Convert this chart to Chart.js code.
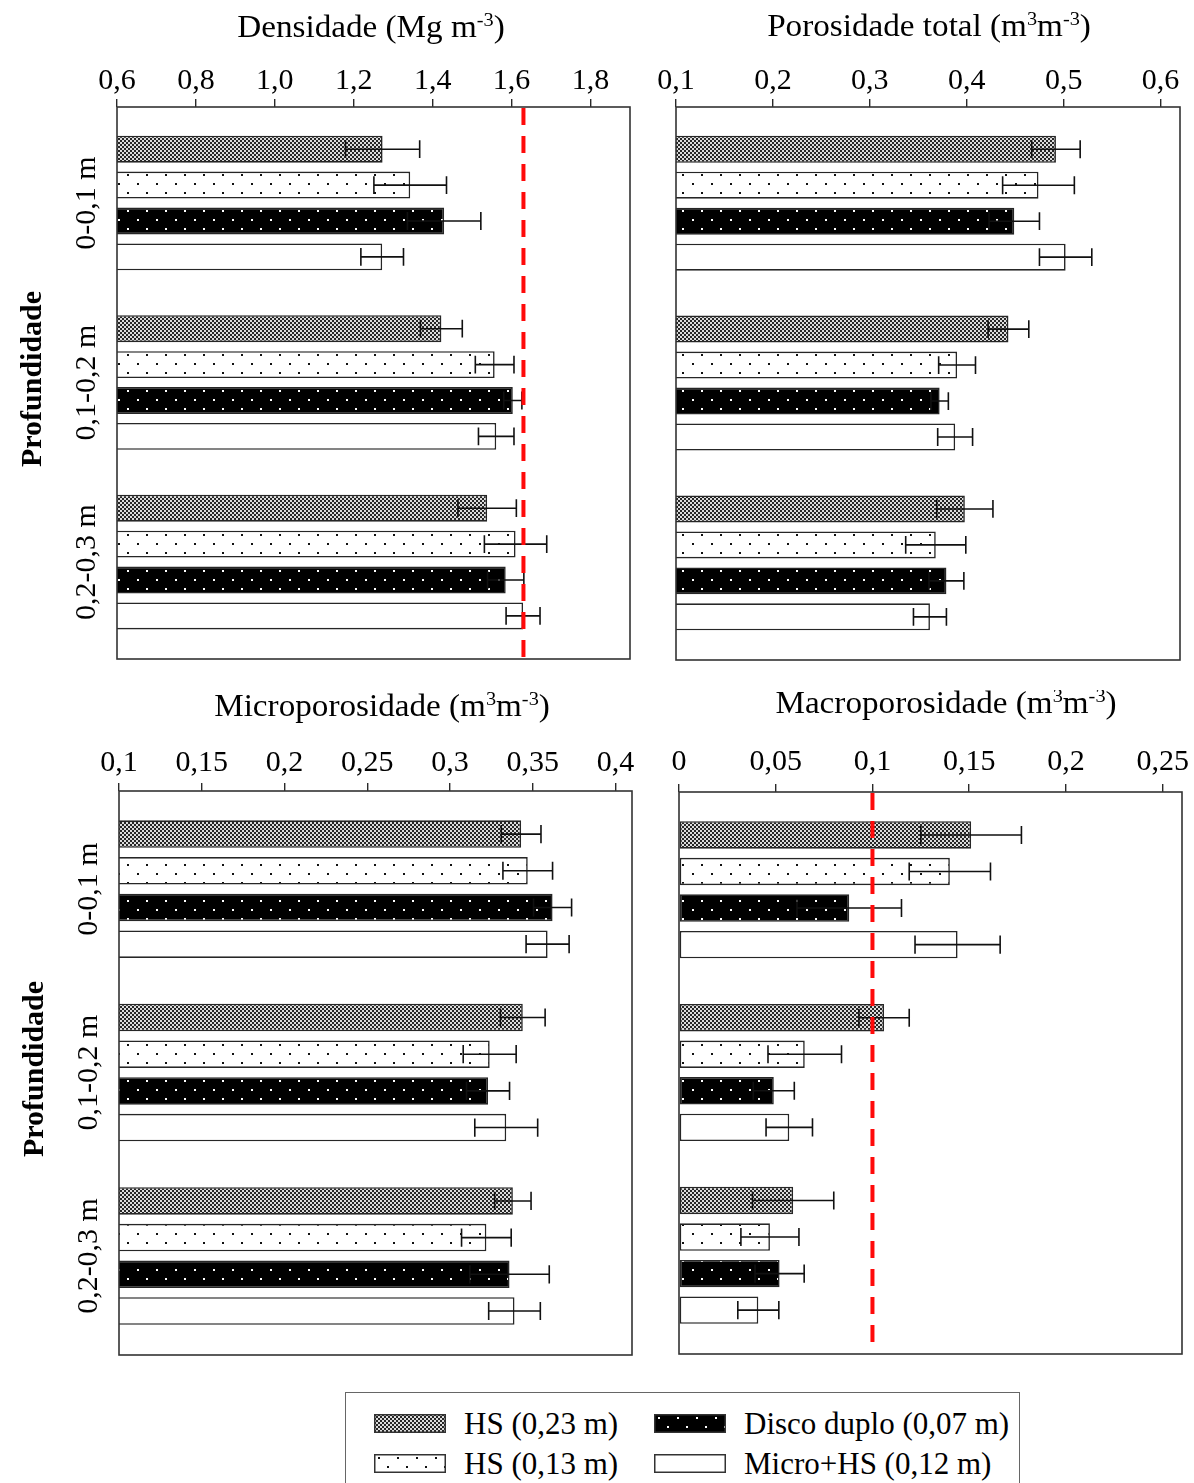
<!DOCTYPE html>
<html>
<head>
<meta charset="utf-8">
<script src="https://cdn.jsdelivr.net/npm/chart.js@4.4.1/dist/chart.umd.min.js"></script>
<style>
  html, body { margin: 0; padding: 0; background: #fff; }
  body { width: 1194px; height: 1483px; position: relative; overflow: hidden;
         font-family: "Liberation Serif", "Times New Roman", serif; color: #000; }
  canvas.panel { position: absolute; }
  #legend { position: absolute; left: 345px; top: 1392px; width: 675px; height: 120px;
            border: 1.5px solid #666; box-sizing: border-box; }
  #legend .sw { position: absolute; }
  #legend .txt { position: absolute; font-size: 31px; line-height: 31px; white-space: nowrap; color: #000; }
</style>
</head>
<body>
<canvas id="c1" class="panel" width="650" height="690" style="left:0;top:0"></canvas>
<canvas id="c2" class="panel" width="544" height="690" style="left:650px;top:0"></canvas>
<canvas id="c3" class="panel" width="650" height="690" style="left:0;top:690px"></canvas>
<canvas id="c4" class="panel" width="544" height="690" style="left:650px;top:690px"></canvas>
<div id="legend"></div>

<script>
// ---- categories and series ----
const depthLabels = ['0-0,1 m', '0,1-0,2 m', '0,2-0,3 m'];
const seriesNames = ['HS (0,23 m)', 'HS (0,13 m)', 'Disco duplo (0,07 m)', 'Micro+HS (0,12 m)'];
const depthAxisTitle = 'Profundidade';

// ---- Densidade (Mg m-3): rows = series, columns = depth ----
const densidadeMedia = [
  [1.273, 1.422, 1.538],
  [1.343, 1.557, 1.610],
  [1.429, 1.603, 1.585],
  [1.272, 1.561, 1.629]
];
const densidadeErro = [
  [0.094, 0.053, 0.074],
  [0.092, 0.049, 0.079],
  [0.093, 0.023, 0.046],
  [0.054, 0.045, 0.043]
];
const densidadeCritica = 1.63;
const densidadeTicks = [0.6, 0.8, 1.0, 1.2, 1.4, 1.6, 1.8];
const densidadeTickLabels = ['0,6', '0,8', '1,0', '1,2', '1,4', '1,6', '1,8'];
const densidadeTitulo = [['Densidade (Mg m'], ['-3', true], [')']];

// ---- Porosidade total (m3 m-3) ----
const porosidadeMedia = [
  [0.492, 0.443, 0.398],
  [0.474, 0.390, 0.368],
  [0.449, 0.372, 0.379],
  [0.502, 0.388, 0.362]
];
const porosidadeErro = [
  [0.025, 0.021, 0.029],
  [0.037, 0.019, 0.031],
  [0.026, 0.009, 0.018],
  [0.027, 0.018, 0.017]
];
const porosidadeTicks = [0.1, 0.2, 0.3, 0.4, 0.5, 0.6];
const porosidadeTickLabels = ['0,1', '0,2', '0,3', '0,4', '0,5', '0,6'];
const porosidadeTitulo = [['Porosidade total (m'], ['3', true], ['m'], ['-3', true], [')']];

// ---- Microporosidade (m3 m-3) ----
const microMedia = [
  [0.343, 0.344, 0.338],
  [0.347, 0.324, 0.322],
  [0.362, 0.323, 0.336],
  [0.359, 0.334, 0.339]
];
const microErro = [
  [0.012, 0.0135, 0.011],
  [0.015, 0.016, 0.015],
  [0.0115, 0.013, 0.024],
  [0.013, 0.019, 0.0156]
];
const microTicks = [0.1, 0.15, 0.2, 0.25, 0.3, 0.35, 0.4];
const microTickLabels = ['0,1', '0,15', '0,2', '0,25', '0,3', '0,35', '0,4'];
const microTitulo = [['Microporosidade (m'], ['3', true], ['m'], ['-3', true], [')']];

// ---- Macroporosidade (m3 m-3) ----
const macroMedia = [
  [0.151, 0.106, 0.059],
  [0.140, 0.065, 0.047],
  [0.088, 0.049, 0.052],
  [0.144, 0.057, 0.041]
];
const macroErro = [
  [0.026, 0.013, 0.021],
  [0.021, 0.019, 0.015],
  [0.027, 0.0106, 0.0127],
  [0.022, 0.012, 0.0106]
];
const macroCritica = 0.10;
const macroTicks = [0, 0.05, 0.1, 0.15, 0.2, 0.25];
const macroTickLabels = ['0', '0,05', '0,1', '0,15', '0,2', '0,25'];
const macroTitulo = [['Macroporosidade (m'], ['3', true], ['m'], ['-3', true], [')']];

// ---- fills ----
const SERIF = '"Liberation Serif", "Times New Roman", serif';
Chart.defaults.font.family = SERIF;
Chart.defaults.color = '#000';

function checkerFill(ctx) {
  const c = document.createElement('canvas');
  c.width = 4; c.height = 4;
  const g = c.getContext('2d');
  g.fillStyle = '#dcdcdc'; g.fillRect(0, 0, 4, 4);
  g.fillStyle = '#262626'; g.fillRect(0, 0, 2, 2); g.fillRect(2, 2, 2, 2);
  return ctx.createPattern(c, 'repeat');
}
function dotFill(ctx, bg, dot) {
  const c = document.createElement('canvas');
  c.width = 19; c.height = 18;
  const g = c.getContext('2d');
  g.fillStyle = bg; g.fillRect(0, 0, 19, 18);
  g.fillStyle = dot; g.fillRect(4, 3, 2, 2); g.fillRect(13, 12, 2, 2);
  return ctx.createPattern(c, 'repeat');
}
function seriesFills(ctx) {
  return [checkerFill(ctx), dotFill(ctx, '#ffffff', '#111111'), dotFill(ctx, '#000000', '#ffffff'), '#ffffff'];
}

// superscript-aware text, slightly widened like the serif titles of the figure
function drawRich(ctx, segs, cx, baseline, size, stretch) {
  const supSize = Math.round(size * 0.62);
  const fMain = size + 'px ' + SERIF, fSup = supSize + 'px ' + SERIF;
  let total = 0;
  const w = segs.map(sg => { ctx.font = sg[1] ? fSup : fMain; const m = ctx.measureText(sg[0]).width; total += m; return m; });
  ctx.save();
  ctx.translate(cx, baseline);
  ctx.scale(stretch, 1);
  let x = -total / 2;
  ctx.textAlign = 'left'; ctx.textBaseline = 'alphabetic'; ctx.fillStyle = '#000';
  segs.forEach((sg, k) => {
    ctx.font = sg[1] ? fSup : fMain;
    ctx.fillText(sg[0], x, sg[1] ? -size * 0.36 : 0);
    x += w[k];
  });
  ctx.restore();
}

// frame, error bars, reference line, titles and depth labels
const panelPlugin = {
  id: 'panelDecor',
  afterDatasetsDraw(chart) {
    const o = chart.options.plugins.panelDecor;
    const ctx = chart.ctx, xs = chart.scales.x, a = chart.chartArea;
    ctx.save();
    // error bars
    ctx.strokeStyle = '#111'; ctx.lineWidth = 1.6; ctx.setLineDash([]);
    chart.data.datasets.forEach((ds, s) => {
      const meta = chart.getDatasetMeta(s);
      meta.data.forEach((bar, i) => {
        const v = meta.controller.getParsed(i).x;
        const e = o.errors[s][i];
        const x1 = xs.getPixelForValue(v - e), x2 = xs.getPixelForValue(v + e);
        const cap = bar.height * 0.33;
        ctx.beginPath();
        ctx.moveTo(x1, bar.y); ctx.lineTo(x2, bar.y);
        ctx.moveTo(x1, bar.y - cap); ctx.lineTo(x1, bar.y + cap);
        ctx.moveTo(x2, bar.y - cap); ctx.lineTo(x2, bar.y + cap);
        ctx.stroke();
      });
    });
    // frame
    ctx.strokeStyle = '#333'; ctx.lineWidth = 1.6;
    ctx.strokeRect(a.left, a.top, a.right - a.left, a.bottom - a.top);
    // critical value line
    if (o.critical != null) {
      const xr = xs.getPixelForValue(o.critical);
      ctx.strokeStyle = '#ff0a0a'; ctx.lineWidth = 4; ctx.setLineDash([17, 11]);
      ctx.beginPath(); ctx.moveTo(xr, a.top + 1); ctx.lineTo(xr, a.bottom - 1); ctx.stroke();
      ctx.setLineDash([]);
    }
    ctx.restore();
  },
  afterDraw(chart) {
    const o = chart.options.plugins.panelDecor;
    const ctx = chart.ctx, ys = chart.scales.y, a = chart.chartArea;
    ctx.save();
    drawRich(ctx, o.title, o.titleX, o.titleY, 31, 1.07);
    if (o.showDepth) {
      ctx.fillStyle = '#000';
      ctx.textAlign = 'center'; ctx.textBaseline = 'alphabetic';
      ctx.font = '30px ' + SERIF;
      depthLabels.forEach((lab, i) => {
        const y = ys.getPixelForValue(i);
        ctx.save(); ctx.translate(a.left - 22, y); ctx.rotate(-Math.PI / 2);
        ctx.fillText(lab, 0, 0); ctx.restore();
      });
      ctx.font = 'bold 30px ' + SERIF;
      ctx.save(); ctx.translate(a.left - 76, (a.top + a.bottom) / 2 - 4); ctx.rotate(-Math.PI / 2);
      ctx.fillText(depthAxisTitle, 0, 0); ctx.restore();
    }
    ctx.restore();
  }
};

function buildPanel(p) {
  const ctx = document.getElementById(p.id).getContext('2d');
  const fills = seriesFills(ctx);
  return new Chart(ctx, {
    type: 'bar',
    data: {
      datasets: seriesNames.map((name, s) => ({
        label: name,
        data: p.media[s].map((v, i) => ({ x: v, y: i })),
        backgroundColor: fills[s],
        borderColor: '#262626',
        borderWidth: 1.6,
        borderSkipped: false,
        categoryPercentage: 0.8,
        barPercentage: 0.75
      }))
    },
    options: {
      indexAxis: 'y',
      responsive: false,
      animation: false,
      devicePixelRatio: 1,
      layout: { padding: p.padding },
      scales: {
        x: {
          type: 'linear', position: 'top', min: p.min, max: p.max,
          beginAtZero: false,
          afterBuildTicks: s => { s.ticks = p.ticks.map(v => ({ value: v })); },
          afterFit: s => { s.height = 50; },
          ticks: {
            autoSkip: false, maxRotation: 0, padding: p.tickPad, color: '#000',
            font: { size: 30, family: SERIF },
            callback: (v, i) => p.tickLabels[i]
          },
          grid: { display: true, drawOnChartArea: false, drawTicks: true, tickLength: 8, color: '#2a2a2a', lineWidth: 1.4 },
          border: { display: false }
        },
        y: {
          type: 'linear', reverse: true, min: -0.535, max: 2.54, offset: false, display: false,
          afterBuildTicks: s => { s.ticks = depthLabels.map((_, i) => ({ value: i })); }
        }
      },
      plugins: {
        legend: { display: false },
        tooltip: { enabled: false },
        title: { display: false },
        panelDecor: {
          errors: p.errors, critical: p.critical, title: p.title,
          titleX: p.titleX, titleY: p.titleY, showDepth: p.showDepth
        }
      }
    },
    plugins: [panelPlugin]
  });
}

buildPanel({ id: 'c1', media: densidadeMedia, errors: densidadeErro, critical: densidadeCritica,
  min: 0.6, max: 1.9, ticks: densidadeTicks, tickLabels: densidadeTickLabels, tickPad: 0,
  padding: { left: 117, right: 20, top: 57, bottom: 31 },
  title: densidadeTitulo, titleX: 371, titleY: 37, showDepth: true });

buildPanel({ id: 'c2', media: porosidadeMedia, errors: porosidadeErro, critical: null,
  min: 0.1, max: 0.62, ticks: porosidadeTicks, tickLabels: porosidadeTickLabels, tickPad: 0,
  padding: { left: 26, right: 14, top: 57, bottom: 30 },
  title: porosidadeTitulo, titleX: 279, titleY: 36, showDepth: false });

buildPanel({ id: 'c3', media: microMedia, errors: microErro, critical: null,
  min: 0.1, max: 0.41, ticks: microTicks, tickLabels: microTickLabels, tickPad: 2,
  padding: { left: 119, right: 18, top: 51, bottom: 25 },
  title: microTitulo, titleX: 382, titleY: 26, showDepth: true });

buildPanel({ id: 'c4', media: macroMedia, errors: macroErro, critical: macroCritica,
  min: 0, max: 0.26, ticks: macroTicks, tickLabels: macroTickLabels, tickPad: 4,
  padding: { left: 29, right: 12, top: 52, bottom: 26 },
  title: macroTitulo, titleX: 296, titleY: 23, showDepth: false });

// legend (two columns, two rows)
(function buildLegend() {
  const box = document.getElementById('legend');
  const cols = [28, 308], rows = [21, 61];
  seriesNames.forEach((name, s) => {
    const col = s < 2 ? 0 : 1, row = s % 2;
    const sw = document.createElement('canvas');
    sw.className = 'sw'; sw.width = 72; sw.height = 19;
    sw.style.left = cols[col] + 'px'; sw.style.top = rows[row] + 'px';
    box.appendChild(sw);
    const g = sw.getContext('2d');
    g.fillStyle = seriesFills(g)[s];
    g.fillRect(0, 0, 72, 19);
    g.strokeStyle = '#333'; g.lineWidth = 1.5;
    g.strokeRect(0.75, 0.75, 70.5, 17.5);
    const t = document.createElement('div');
    t.className = 'txt'; t.textContent = name;
    t.style.left = (cols[col] + 90) + 'px'; t.style.top = (rows[row] - 6) + 'px';
    box.appendChild(t);
  });
})();
</script>
</body>
</html>
